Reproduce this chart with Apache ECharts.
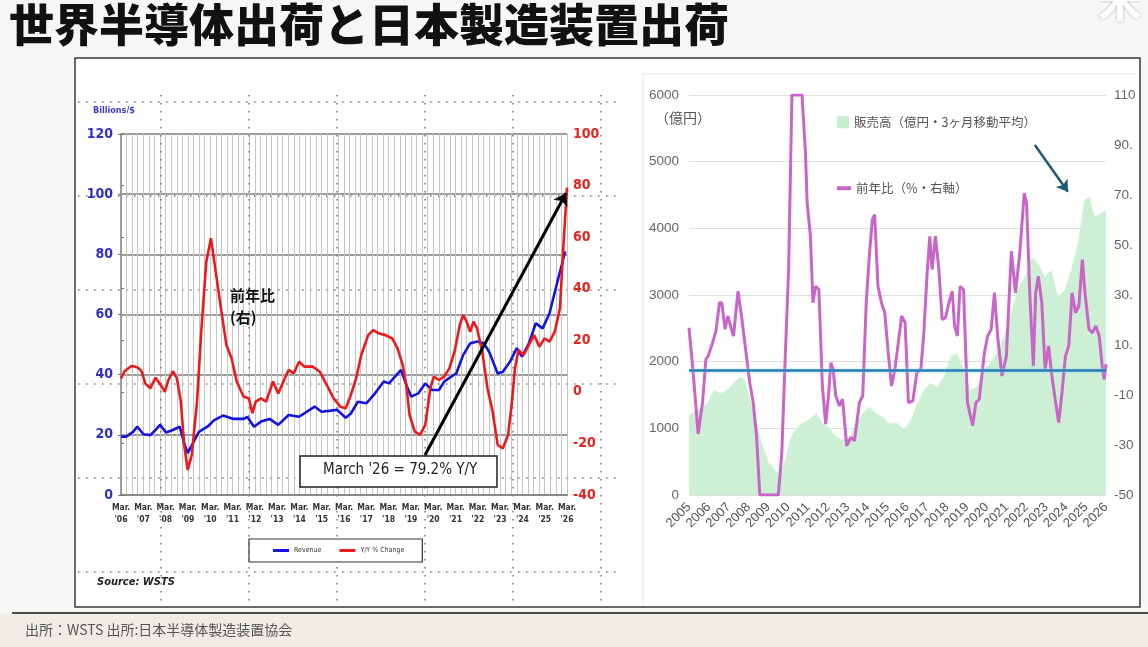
<!DOCTYPE html>
<html><head><meta charset="utf-8">
<script src="https://cdn.jsdelivr.net/npm/echarts@6/dist/echarts.min.js"></script>
<style>html,body{margin:0;padding:0;background:#f6f6f4;}#c{width:1148px;height:647px;}</style>
</head><body><div id="c"></div><script>
// ---------- Left chart (WSTS) : x = months since Mar 2006 ----------
const wstsYearTicks = ["'06","'07","'08","'09","'10","'11","'12","'13","'14","'15","'16","'17","'18","'19","'20","'21","'22","'23","'24","'25","'26"];
const revMonths = [0,2.8,6.5,8.7,12.1,15.8,18.6,21,24.2,27.9,31.6,34,35.9,39.1,41.9,46.5,50.2,54.9,60.5,66,67.9,71.6,75.3,80,84.6,90.2,95.8,104.2,107.9,116.3,120.9,123.7,127.4,132.1,136.7,141.4,144.2,150.7,153.5,156.2,160,163.7,167.4,171.1,173.9,177.6,180.4,184.1,187.9,191.6,195.3,198.1,202.7,205.5,209.3,213,215.8,219.5,223.2,226.9,230.6,234.4,237.2,239];
const revValues = [19.4,19.4,21,22.7,20.2,19.9,21.6,23.3,20.8,21.6,22.7,17.2,13.9,17.7,21,22.7,24.9,26.4,25.3,25.3,26,22.7,24.4,25.3,23.3,26.6,26,29.4,27.7,28.3,25.7,27.1,31,30.5,33.8,37.7,37.1,41.6,36.6,32.7,33.8,37.1,34.9,34.9,37.7,39.3,40.4,46.5,50.4,51,50.4,47.6,40.4,41,44.3,48.8,46,50.4,57.1,55.4,60.4,69.8,76.5,81];
const yoyMonths = [0,1.9,5.6,7.4,9.3,11.2,13,15.8,18.6,21.4,23.6,25.5,27.9,30.1,32.2,34,35.9,38.1,40.9,43.3,45.9,48.4,50.2,53,56.7,59.5,62.3,66,68.8,70.7,72.5,75.3,78.1,81.8,84.6,87.4,90.2,93,95.8,98.6,103.2,107,110.7,114.4,118.1,120.9,123.7,126.5,129.3,133,135.8,138.6,142.3,146,148.8,151.6,153.5,155.3,158.1,160.9,163.7,166.5,168.3,171.1,173.9,176.7,179.5,182.3,184.1,186,187.9,189.7,191.6,194.4,197.2,200,202.7,205.5,208.3,210.2,212,213.9,216.7,219.5,222.3,225.1,227.9,230.6,233.4,236.2,238.1,240];
const yoyValues = [5.2,8,10,9.8,9.3,7.8,3.3,1.4,5.5,2.7,0,4.6,8,5.2,-3.8,-20.6,-30.3,-24.5,-3.8,24.6,50.5,59.6,50.5,36.3,18.2,13,3.9,-1.9,-2.5,-8.3,-3.8,-2.5,-3.8,4,-0.6,4,8.5,7.2,11.7,9.8,9.8,7.8,2.7,-2.5,-5.8,-6.4,-1.2,5.2,14.3,22,24,22.7,22,20.7,16.9,10.4,2.7,-9,-15.4,-16.7,-12.9,1.4,5.9,4.6,5.9,9.1,15.6,25.9,29.8,27.2,23.3,27.2,24.6,15.6,1.4,-7.7,-20.6,-21.9,-16.7,-5.1,9.1,16.2,14.3,18.2,22,17.5,20.7,19.5,23.3,32.4,56.9,79.2];

// ---------- Right chart (SEAJ) : x = months since Jan 2005 ----------
const seajYearLabels = ['2005','2006','2007','2008','2009','2010','2011','2012','2013','2014','2015','2016','2017','2018','2019','2020','2021','2022','2023','2024','2025','2026'];
const salesMonths = [0,5,11,15,19,23,27,31,34,37,40,44,48,52,55,58,61,64,68,72,77,81,85,89,93,97,101,105,109,113,117,121,126,130,134,138,142,146,150,154,158,162,166,170,174,178,182,187,191,195,199,203,207,211,215,219,223,227,231,235,239,242,245,249,252];
const salesValues = [1200,1275,1375,1575,1525,1575,1675,1775,1725,1425,1175,775,500,375,300,525,825,975,1075,1125,1225,1075,1000,875,825,875,1075,1225,1325,1225,1175,1075,1075,975,1125,1375,1575,1675,1625,1775,2075,2125,1875,1575,1625,1875,1975,2175,2425,2775,3125,3275,3575,3475,3275,3375,2975,3075,3375,3775,4425,4475,4175,4225,4275];
const seajYoyMonths = [0,2,4,5.5,6.7,8.2,10.2,11.6,14.3,16.3,18.4,19.8,21.8,23.5,25.1,26.9,29.6,32,34.7,36.7,38.8,40.8,42.8,54,56.1,58.1,60.2,62.2,68.3,70.4,71.4,73.4,74.9,76.5,78.5,80.6,82.6,84.3,85.7,87.1,88.7,90.8,92.8,95.3,97.9,100,103,105,107.1,109.1,110.8,112.2,114.2,116.3,118.3,120.4,122.4,124.4,126.5,128.5,130.6,132.6,135.3,137.7,140.1,141.8,143.8,145.5,146.9,148.9,151,153,155,157.1,159.1,160.5,162.2,163.8,165.9,168.3,171.4,173.4,175.4,178.5,180.5,182.6,184.6,186.7,189.1,191.8,194.8,197.3,199.9,202.6,204,206,208.1,209.5,211.1,213.2,215.2,217.3,219.3,221.3,223.4,225.4,227.5,229.5,231.5,233.6,235.6,237.7,239.3,241.7,243.8,245.8,247.9,249.9,250.9,252];
const seajYoyValues = [16.9,2.9,-13,-25.6,-25,-13,4.3,5.6,11,15.6,26.9,26.9,16.3,21.6,17.6,13.6,31.5,20.2,5.6,-5,-13,-26.3,-50,-50,-33,4.3,40.2,110,110,86.7,66.8,53.5,26.9,33.5,32.2,-6.4,-21.6,-10.3,2.9,0.3,-10.3,-14.3,-11.7,-30.3,-27,-28.3,-13,-10.3,26.9,46.8,60.1,62.1,33.5,26.9,22.9,6.9,-6.4,0.3,10.9,21.6,18.9,-13,-12.3,-1,0.3,13.6,37.5,53.5,40.2,53.5,40.2,20.2,20.9,26.9,31.5,17.6,13.6,33.5,32.2,-13,-22.3,-13,-11.7,6.9,13.6,16.3,30.9,12.3,-2.4,5.6,47.5,30.9,46.8,70.8,66.8,29.5,1.6,30.9,37.5,26.9,0.3,9.6,-2.4,-11.7,-21,-9,5.6,9.6,30.9,22.9,25.6,44.2,30.9,16.3,14.9,17.6,13.6,0.3,-3.7,2.3];
const seajYoyTicks = [-50,-30,-10,10,30,50,70,90,110];

const zip = (xs, ys) => xs.map((x, i) => [x, ys[i]]);
const narrow = "'Liberation Sans Narrow','Arial Narrow','DejaVu Sans Condensed',sans-serif";
const sans = "'Liberation Sans','Noto Sans CJK JP',sans-serif";
const jp = "'Noto Sans CJK JP',sans-serif";

const chart = echarts.init(document.getElementById('c'));
chart.setOption({
  animation: false,
  backgroundColor: '#f6f6f4',
  grid: [
    {left: 121, top: 134, width: 446, height: 361},
    {left: 689, top: 95, width: 417, height: 400},
    {left: 161, top: 95, width: 440, height: 508},
    {left: 78, top: 102, width: 540, height: 470}
  ],
  xAxis: [
    {gridIndex: 0, type: 'value', min: 0, max: 240, interval: 12,
      axisLine: {show: true, lineStyle: {color: '#888', width: 2}}, axisTick: {show: false}, splitLine: {show: false},
      axisLabel: {margin: 7, color: '#333', fontSize: 8.5, fontWeight: 'bold', lineHeight: 12, fontFamily: narrow,
        formatter: v => (v % 12 === 0 ? 'Mar.\n' + wstsYearTicks[v / 12] : '')}},
    {gridIndex: 0, type: 'value', min: 0, max: 240, interval: 3,
      axisLine: {show: false}, axisTick: {show: false}, axisLabel: {show: false},
      splitLine: {show: true, lineStyle: {color: '#c4c4c4', width: 1}}},
    {gridIndex: 1, type: 'value', min: 0, max: 252, interval: 12,
      axisLine: {show: false}, axisTick: {show: false}, splitLine: {show: false},
      axisLabel: {rotate: 45, margin: 10, color: '#555', fontSize: 13, fontFamily: sans,
        formatter: v => (v % 12 === 0 ? seajYearLabels[v / 12] : '')}},
    {gridIndex: 2, type: 'value', min: 0, max: 5, interval: 1,
      axisLine: {show: false}, axisTick: {show: false}, axisLabel: {show: false},
      splitLine: {show: true, lineStyle: {color: '#777', width: 1.5, type: [1.5, 6.5]}}},
    {gridIndex: 3, type: 'value', min: 0, max: 1, show: false}
  ],
  yAxis: [
    {gridIndex: 0, type: 'value', min: 0, max: 120, interval: 20,
      axisLine: {show: true, lineStyle: {color: '#999', width: 1.5}},
      axisTick: {show: true, length: 3, lineStyle: {color: '#777'}},
      axisLabel: {margin: 8, color: '#3030c8', fontSize: 14, fontWeight: 'bold', fontFamily: narrow},
      splitLine: {show: true, lineStyle: {color: '#7a7a7a', width: 1.5}}},
    {gridIndex: 0, type: 'value', min: -40, max: 100, interval: 20, position: 'right',
      axisLine: {show: true, lineStyle: {color: '#999', width: 1.5}},
      axisTick: {show: true, length: 3, lineStyle: {color: '#777'}},
      axisLabel: {margin: 6, color: '#e8231e', fontSize: 14, fontWeight: 'bold', fontFamily: narrow},
      splitLine: {show: false}},
    {gridIndex: 1, type: 'value', min: 0, max: 6000, interval: 1000,
      axisLine: {show: false}, axisTick: {show: false},
      axisLabel: {margin: 10, color: '#666', fontSize: 13.5, fontFamily: sans, formatter: v => String(v)},
      splitLine: {show: true, lineStyle: {color: '#dedede', width: 1.2}}},
    {gridIndex: 1, type: 'value', min: -50, max: 110, position: 'right',
      axisLine: {show: false}, axisTick: {show: false}, splitLine: {show: false},
      axisLabel: {customValues: seajYoyTicks, margin: 8, color: '#666', fontSize: 13.5, fontFamily: sans,
        formatter: v => Number(v).toFixed(1), width: 24, overflow: 'truncate', ellipsis: ''}},
    {gridIndex: 2, type: 'value', min: 0, max: 1, show: false},
    {gridIndex: 3, type: 'value', min: 0, max: 5, interval: 1,
      axisLine: {show: false}, axisTick: {show: false}, axisLabel: {show: false},
      splitLine: {show: true, lineStyle: {color: '#777', width: 1.5, type: [1.5, 6.5]}}}
  ],
  legend: [
    {data: ['Revenue', 'Y/Y % Change'], left: 249, top: 539, orient: 'horizontal',
      padding: [8, 18, 8, 24], itemGap: 18, itemWidth: 16, itemHeight: 3, icon: 'rect',
      borderColor: '#333', borderWidth: 1.2, backgroundColor: '#fff',
      textStyle: {fontSize: 7, color: '#333', fontFamily: narrow}},
    {data: ['販売高（億円・3ヶ月移動平均）'], left: 832, top: 111, icon: 'rect', itemWidth: 12, itemHeight: 12, itemGap: 6,
      textStyle: {fontSize: 12.5, color: '#555', fontFamily: jp}},
    {data: ['前年比（%・右軸）'], left: 832, top: 177, icon: 'rect', itemWidth: 14, itemHeight: 4,
      textStyle: {fontSize: 12.5, color: '#555', fontFamily: jp}}
  ],
  series: [
    {name: '販売高（億円・3ヶ月移動平均）', type: 'line', xAxisIndex: 2, yAxisIndex: 2,
      data: zip(salesMonths, salesValues), symbol: 'none', color: '#c6edcc',
      lineStyle: {width: 0}, areaStyle: {color: '#cdefd3', opacity: 1}, z: 1,
      markLine: {silent: true, symbol: ['none', 'arrow'], symbolSize: 11,
        lineStyle: {color: '#1e5a78', width: 2.5, type: 'solid'}, label: {show: false},
        data: [[{coord: [209, 5250]}, {coord: [229, 4550]}]]}},
    {name: '前年比（%・右軸）', type: 'line', xAxisIndex: 2, yAxisIndex: 3,
      data: zip(seajYoyMonths, seajYoyValues), symbol: 'none', color: '#c965c9',
      lineStyle: {width: 3, color: '#c965c9'}, z: 3,
      markLine: {silent: true, symbol: 'none', label: {show: false},
        lineStyle: {color: '#2b7db5', width: 2.5, type: 'solid', shadowColor: '#8ee0f5', shadowBlur: 3},
        data: [{yAxis: 0}]}},
    {name: 'Revenue', type: 'line', xAxisIndex: 0, yAxisIndex: 0,
      data: zip(revMonths, revValues), symbol: 'none', color: '#1414e0',
      lineStyle: {width: 2.6, color: '#1414e0'}, z: 3,
      markLine: {silent: true, symbol: ['none', 'arrow'], symbolSize: 12,
        lineStyle: {color: '#000', width: 3, type: 'solid'}, label: {show: false},
        data: [[{coord: [163.6, 13.3]}, {coord: [239.5, 100.4]}]]}},
    {name: 'Y/Y % Change', type: 'line', xAxisIndex: 0, yAxisIndex: 1,
      data: zip(yoyMonths, yoyValues), symbol: 'none', color: '#ec1a1a',
      lineStyle: {width: 2.6, color: '#ec1a1a'}, z: 4}
  ],
  graphic: [
    {type: 'rect', z: -10, shape: {x: 75, y: 58, width: 1065, height: 549},
      style: {fill: '#fff', stroke: '#3a3a3a', lineWidth: 1.5}},
    {type: 'line', z: -9, shape: {x1: 643, y1: 74, x2: 1136, y2: 74}, style: {stroke: '#e4e4e4', lineWidth: 1}},
    {type: 'line', z: -9, shape: {x1: 643, y1: 74, x2: 643, y2: 606}, style: {stroke: '#e4e4e4', lineWidth: 1}},
    {type: 'rect', z: -10, shape: {x: 0, y: 614, width: 1148, height: 33}, style: {fill: '#efebe5'}},
    {type: 'line', z: -9, shape: {x1: 12, y1: 613, x2: 1148, y2: 613}, style: {stroke: '#4a4a4a', lineWidth: 2}},
    {type: 'text', z: 50, left: 9, top: 2,
      style: {text: '世界半導体出荷と日本製造装置出荷', fill: '#111', font: '900 45px ' + jp}},
    {type: 'text', z: 50, left: 1098, top: -22,
      style: {text: '米', fill: '#fff', font: 'bold 44px ' + jp, textShadowColor: 'rgba(0,0,0,0.3)', textShadowBlur: 3}},
    {type: 'text', z: 50, left: 25, top: 623,
      style: {text: '出所：WSTS 出所:日本半導体製造装置協会', fill: '#555', font: '14px ' + jp}},
    {type: 'text', z: 50, left: 93, top: 106,
      style: {text: 'Billions/$', fill: '#3a3ad0', font: 'bold 9px ' + narrow}},
    {type: 'text', z: 50, left: 97, top: 577,
      style: {text: 'Source: WSTS', fill: '#222', font: 'italic bold 11px ' + narrow}},
    {type: 'text', z: 50, left: 230, top: 284,
      style: {text: '前年比\n(右)', fill: '#111', font: 'bold 15px ' + jp, lineHeight: 22}},
    {type: 'rect', z: 50, shape: {x: 300, y: 456, width: 197, height: 31},
      style: {fill: '#fff', stroke: '#222', lineWidth: 1.5}},
    {type: 'text', z: 51, left: 323, top: 463,
      style: {text: "March '26 = 79.2% Y/Y", fill: '#222', font: '15px ' + narrow}},
    {type: 'text', z: 50, left: 655, top: 111,
      style: {text: '（億円）', fill: '#555', font: '14px ' + jp}}
  ]
});
</script></body></html>
